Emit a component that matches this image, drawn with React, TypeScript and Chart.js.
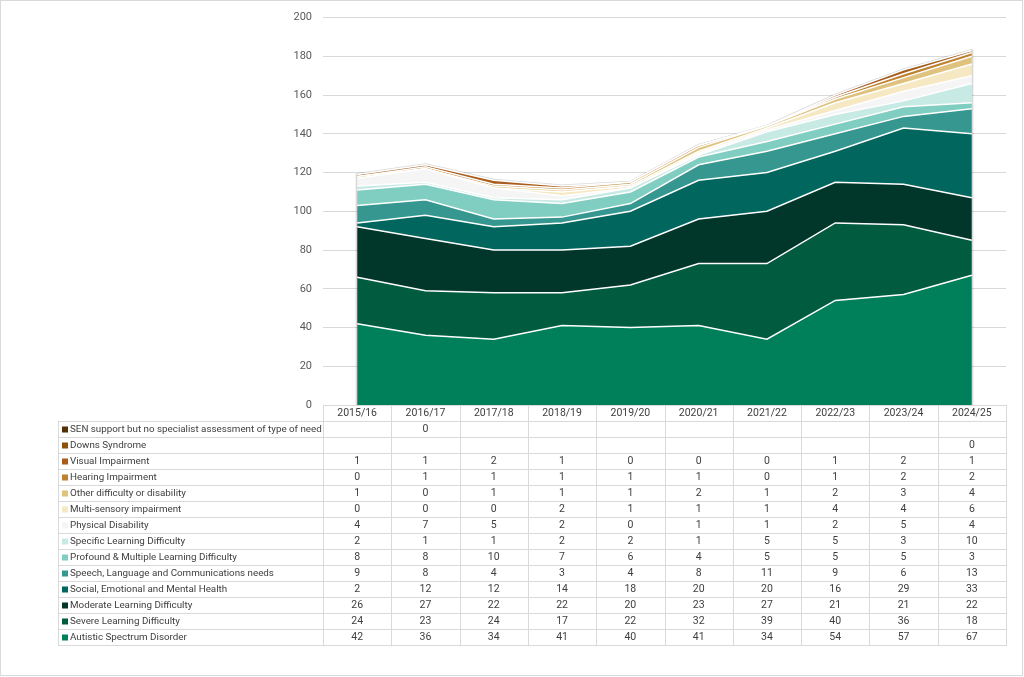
import React, { useEffect, useRef } from "react";
import { Chart, registerables } from "chart.js";

Chart.register(...registerables);

const years = ["2015/16", "2016/17", "2017/18", "2018/19", "2019/20", "2020/21", "2021/22", "2022/23", "2023/24", "2024/25"];

const autistic = [42, 36, 34, 41, 40, 41, 34, 54, 57, 67];
const severe = [24, 23, 24, 17, 22, 32, 39, 40, 36, 18];
const moderate = [26, 27, 22, 22, 20, 23, 27, 21, 21, 22];
const semh = [2, 12, 12, 14, 18, 20, 20, 16, 29, 33];
const slcn = [9, 8, 4, 3, 4, 8, 11, 9, 6, 13];
const pmld = [8, 8, 10, 7, 6, 4, 5, 5, 5, 3];
const spld = [2, 1, 1, 2, 2, 1, 5, 5, 3, 10];
const physical = [4, 7, 5, 2, 0, 1, 1, 2, 5, 4];
const multiSensory = [0, 0, 0, 2, 1, 1, 1, 4, 4, 6];
const otherDifficulty = [1, 0, 1, 1, 1, 2, 1, 2, 3, 4];
const hearing = [0, 1, 1, 1, 1, 1, 0, 1, 2, 2];
const visual = [1, 1, 2, 1, 0, 0, 0, 1, 2, 1];
const downs = [null, null, null, null, null, null, null, null, null, 0];
const senSupport = [null, 0, null, null, null, null, null, null, null, null];

const yTicks = [0, 20, 40, 60, 80, 100, 120, 140, 160, 180, 200];

const series = [
  { name: "Autistic Spectrum Disorder", data: autistic, color: "#00805A" },
  { name: "Severe Learning Difficulty", data: severe, color: "#005B3F" },
  { name: "Moderate Learning Difficulty", data: moderate, color: "#01362B" },
  { name: "Social, Emotional and Mental Health", data: semh, color: "#01665E" },
  { name: "Speech, Language and Communications needs", data: slcn, color: "#35978F" },
  { name: "Profound & Multiple Learning Difficulty", data: pmld, color: "#80CDC1" },
  { name: "Specific Learning Difficulty", data: spld, color: "#C7EAE5" },
  { name: "Physical Disability", data: physical, color: "#F5F5F5" },
  { name: "Multi-sensory impairment", data: multiSensory, color: "#F6E8C3" },
  { name: "Other difficulty or disability", data: otherDifficulty, color: "#DFC27D" },
  { name: "Hearing Impairment", data: hearing, color: "#BF812D" },
  { name: "Visual Impairment", data: visual, color: "#A85D1C" },
  { name: "Downs Syndrome", data: downs, color: "#8C510A" },
  { name: "SEN support but no specialist assessment of type of need", data: senSupport, color: "#543005" },
];

const FONT = "Roboto, 'Liberation Sans', Arial, sans-serif";

const shadowPlugin = {
  id: "shadowOutline",
  beforeDatasetsDraw(chart: any) {
    const ctx = chart.ctx;
    const xs = chart.scales.x;
    const ys = chart.scales.y;
    const totals = years.map((_, i) =>
      series.reduce((s, ser) => s + (ser.data[i] == null ? 0 : (ser.data[i] as number)), 0)
    );
    ctx.save();
    ctx.strokeStyle = "rgba(0,0,0,0.15)";
    ctx.lineWidth = 3;
    ctx.lineJoin = "round";
    ctx.beginPath();
    ctx.moveTo(xs.getPixelForValue(0), ys.getPixelForValue(0));
    totals.forEach((t, i) => ctx.lineTo(xs.getPixelForValue(i), ys.getPixelForValue(t)));
    ctx.lineTo(xs.getPixelForValue(years.length - 1), ys.getPixelForValue(0));
    ctx.stroke();
    ctx.restore();
  },
};

const tablePlugin = {
  id: "dataTable",
  afterDraw(chart: any) {
    const ctx = chart.ctx;
    const xs = chart.scales.x;
    const area = chart.chartArea;
    const colW = xs.getPixelForValue(1) - xs.getPixelForValue(0);
    const top = Math.round(area.bottom);
    const headerH = 16;
    const rowH = 16;
    const legendLeft = 58;
    const rows = [...series].reverse();
    const tableTop = top + headerH;
    const tableBottom = tableTop + rows.length * rowH;

    ctx.save();
    ctx.strokeStyle = "#d9d9d9";
    ctx.lineWidth = 1;
    ctx.beginPath();
    for (let i = 0; i <= years.length; i++) {
      const x = Math.round(xs.getPixelForValue(0) - colW / 2 + i * colW) + 0.5;
      ctx.moveTo(x, top);
      ctx.lineTo(x, tableBottom);
    }
    ctx.moveTo(legendLeft + 0.5, tableTop);
    ctx.lineTo(legendLeft + 0.5, tableBottom);
    for (let r = 0; r <= rows.length; r++) {
      const y = tableTop + r * rowH + 0.5;
      ctx.moveTo(legendLeft, y);
      ctx.lineTo(Math.round(area.right) + 1, y);
    }
    ctx.stroke();

    ctx.fillStyle = "#404040";
    ctx.font = `10.5px ${FONT}`;
    ctx.textAlign = "center";
    ctx.textBaseline = "middle";
    years.forEach((y, i) => {
      ctx.fillText(y, xs.getPixelForValue(i), top + headerH / 2 + 0.5);
    });

    rows.forEach((ser, r) => {
      const cy = tableTop + r * rowH + rowH / 2 + 0.5;
      ctx.fillStyle = ser.color;
      ctx.fillRect(legendLeft + 4, cy - 3, 6, 6);
      ctx.fillStyle = "#404040";
      ctx.textAlign = "left";
      ctx.font = `9.8px ${FONT}`;
      ctx.fillText(ser.name, legendLeft + 12, cy);
      ctx.textAlign = "center";
      ctx.font = `10.5px ${FONT}`;
      ser.data.forEach((v, i) => {
        if (v == null) return;
        ctx.fillText(String(v), xs.getPixelForValue(i), cy);
      });
    });

    ctx.strokeStyle = "#d9d9d9";
    ctx.strokeRect(0.5, 0.5, chart.width - 2, chart.height - 2);
    ctx.restore();
  },
};

export default function App() {
  const ref = useRef<HTMLCanvasElement | null>(null);
  useEffect(() => {
    if (!ref.current) return;
    const chart = new Chart(ref.current, {
      type: "line",
      data: {
        labels: years,
        datasets: series.map((s, i) => ({
          label: s.name,
          data: s.data as any,
          backgroundColor: s.color,
          borderColor: "#ffffff",
          borderWidth: 1.5,
          pointRadius: 0,
          fill: i === 0 ? "origin" : "-1",
          tension: 0,
        })),
      },
      options: {
        animation: false,
        responsive: false,
        maintainAspectRatio: false,
        layout: { padding: { left: 0, top: 16, right: 18, bottom: 272 } },
        plugins: { legend: { display: false }, tooltip: { enabled: false } },
        scales: {
          x: {
            type: "category",
            display: false,
            offset: true,
            stacked: true,
          },
          y: {
            stacked: true,
            min: 0,
            max: 200,
            afterFit: (s: any) => {
              s.width = 323;
            },
            afterBuildTicks: (s: any) => {
              s.ticks = yTicks.map((v) => ({ value: v }));
            },
            border: { display: false },
            grid: { color: "#d9d9d9", drawTicks: false, lineWidth: 1 },
            ticks: { color: "#595959", padding: 11, font: { size: 11, family: FONT } },
          },
        },
      },
      plugins: [shadowPlugin, tablePlugin],
    });
    return () => chart.destroy();
  }, []);
  return (
    <div style={{ position: "fixed", left: 0, top: 0, width: 1024, height: 677, background: "#fff" }}>
      <canvas ref={ref} width={1024} height={677} style={{ display: "block" }} />
    </div>
  );
}
